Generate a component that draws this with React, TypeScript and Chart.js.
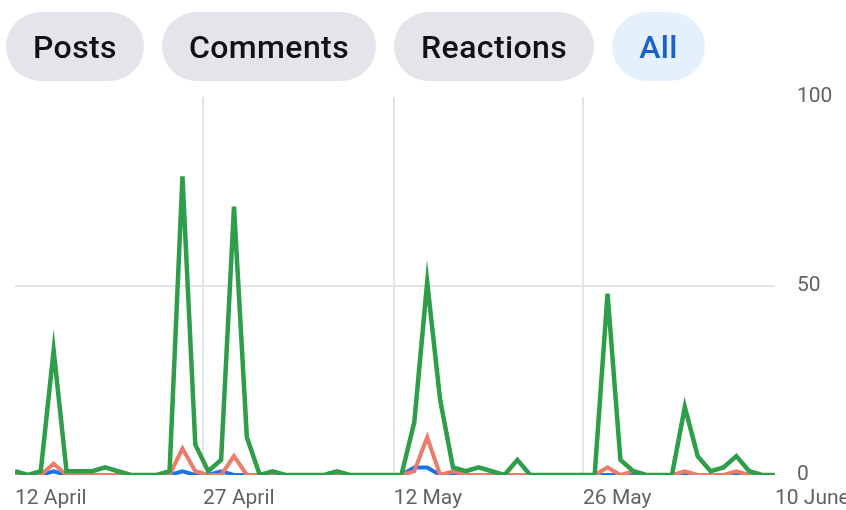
import React, { useEffect, useRef } from "react";
import { Chart, registerables } from "chart.js";

Chart.register(...registerables);

// Daily values, 12 April (index 0) to 10 June (index 59)
const reactions = [
  1, 0, 1, 33, 1, 1, 1, 2, 1, 0, 0, 0, 1, 79, 8, 1, 4, 71, 10, 0,
  1, 0, 0, 0, 0, 1, 0, 0, 0, 0, 0, 14, 51, 20, 2, 1, 2, 1, 0, 4,
  0, 0, 0, 0, 0, 0, 48, 4, 1, 0, 0, 0, 18, 5, 1, 2, 5, 1, 0, 0,
];
const comments = [
  0, 0, 0, 3, 0, 0, 0, 0, 0, 0, 0, 0, 0, 7, 1, 0, 0, 5, 0, 0,
  0, 0, 0, 0, 0, 0, 0, 0, 0, 0, 0, 1, 10, 0, 1, 0, 0, 0, 0, 0,
  0, 0, 0, 0, 0, 0, 2, 0, 1, 0, 0, 0, 1, 0, 0, 0, 1, 0, 0, 0,
];
const posts = [
  0, 0, 0, 1, 0, 0, 0, 0, 0, 0, 0, 0, 0, 1, 0, 0, 1, 0, 0, 0,
  0, 0, 0, 0, 0, 0, 0, 0, 0, 0, 0, 2, 2, 0, 0, 0, 0, 0, 0, 0,
  0, 0, 0, 0, 0, 0, 0, 0, 0, 0, 0, 0, 0, 0, 0, 0, 0, 0, 0, 0,
];

const tickDays = [0, 14.6, 29.4, 44.1, 59];
const tickLabels = ["12 April", "27 April", "12 May", "26 May", "10 June"];
const yTicks = [0, 50, 100];
const tabs = ["Posts", "Comments", "Reactions", "All"];
const activeTab = "All";

const GREEN = "#2f9e4a";
const SALMON = "#ec7b6a";
const BLUE = "#1a73e8";
const GRID = "#e3e3e8";
const TICK = "#626262";

export default function App() {
  const ref = useRef<HTMLCanvasElement>(null);

  useEffect(() => {
    if (!ref.current) return;
    const toPts = (arr: number[]) => arr.map((v, i) => ({ x: i, y: v }));
    const font = { family: "Roboto", size: 21 };
    const chart = new Chart(ref.current, {
      type: "line",
      data: {
        datasets: [
          { label: "Reactions", data: toPts(reactions), borderColor: GREEN, borderWidth: 4.5, pointRadius: 0, tension: 0 },
          { label: "Comments", data: toPts(comments), borderColor: SALMON, borderWidth: 4, pointRadius: 0, tension: 0 },
          { label: "Posts", data: toPts(posts), borderColor: BLUE, borderWidth: 4, pointRadius: 0, tension: 0 },
        ],
      },
      options: {
        animation: false,
        responsive: false,
        maintainAspectRatio: false,
        layout: { padding: { left: 15, top: 97, right: 0, bottom: 0 } },
        plugins: { legend: { display: false }, tooltip: { enabled: false } },
        scales: {
          x: {
            type: "linear",
            min: 0,
            max: reactions.length - 1,
            afterBuildTicks: (s: any) => {
              s.ticks = tickDays.map((v) => ({ value: v }));
            },
            afterFit: (s: any) => {
              s.height = 35;
              s.paddingLeft = 0;
              s.paddingRight = 0;
            },
            grid: {
              color: (c: any) => (c.index > 0 && c.index < tickDays.length - 1 ? GRID : "transparent"),
              lineWidth: 2,
              drawTicks: false,
            },
            border: { display: false },
            ticks: {
              align: "start",
              padding: 11,
              color: TICK,
              font,
              maxRotation: 0,
              autoSkip: false,
              callback: (_v: any, i: number) => tickLabels[i],
            },
          },
          y: {
            position: "right",
            min: 0,
            max: 100,
            afterBuildTicks: (s: any) => {
              s.ticks = yTicks.map((v) => ({ value: v }));
            },
            afterFit: (s: any) => {
              s.width = 71;
              s.paddingTop = 0;
              s.paddingBottom = 0;
            },
            grid: {
              color: (c: any) => (c.tick && c.tick.value === 50 ? GRID : "transparent"),
              lineWidth: 2,
              drawTicks: false,
            },
            border: { display: false },
            ticks: { padding: 22, color: TICK, font },
          },
        },
      },
    } as any);
    return () => chart.destroy();
  }, []);

  return (
    <div style={{ position: "absolute", left: 0, top: 0, width: 846, height: 510, overflow: "hidden", background: "#fff" }}>
      <canvas ref={ref} width={846} height={510} style={{ position: "absolute", left: 0, top: 0, width: 846, height: 510 }} />
      <div style={{ position: "absolute", left: 6, top: 12, display: "flex", gap: 18 }}>
        {tabs.map((t) => {
          const active = t === activeTab;
          return (
            <div
              key={t}
              style={{
                height: 69,
                padding: "0 27px",
                borderRadius: 35,
                background: active ? "#e5f0fd" : "#e4e5ea",
                color: active ? "#1a63cc" : "#111111",
                fontFamily: "Roboto",
                fontWeight: 500,
                fontSize: 32,
                letterSpacing: 0.4,
                display: "flex",
                alignItems: "center",
                boxSizing: "border-box",
              }}
            >
              {t}
            </div>
          );
        })}
      </div>
    </div>
  );
}
